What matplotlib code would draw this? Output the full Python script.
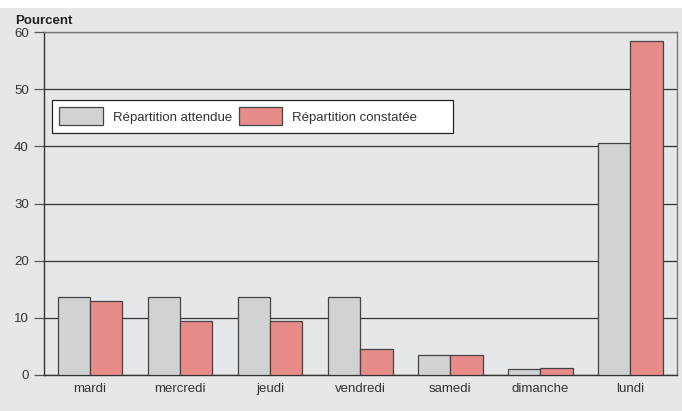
import matplotlib.pyplot as plt
import numpy as np
from matplotlib.patches import Rectangle

plt.rcParams["font.family"] = ["Liberation Sans", "DejaVu Sans"]

# Data
jours = ["mardi", "mercredi", "jeudi", "vendredi", "samedi", "dimanche", "lundi"]
attendue = [13.6, 13.6, 13.6, 13.6, 3.5, 1.1, 40.6]
constatee = [13.0, 9.4, 9.4, 4.5, 3.5, 1.2, 58.5]
yticks = [0, 10, 20, 30, 40, 50, 60]

bg = "#e6e7e8"
gris = "#d1d2d4"
rouge = "#e88c8a"

fig = plt.figure(figsize=(6.82, 4.11), dpi=100, facecolor=bg)
ax = fig.add_axes([0.0645, 0.0876, 0.9282, 0.8345])
ax.set_facecolor(bg)

# white strip at the very top
fig.patches.append(Rectangle((0, 0.98), 1, 0.02, transform=fig.transFigure,
                             facecolor="white", edgecolor="none", zorder=0))

x = np.arange(len(jours))
w = 0.36
ax.bar(x - w / 2, attendue, w, color=gris, edgecolor="#444444", linewidth=0.9,
       label="Répartition attendue", zorder=3)
ax.bar(x + w / 2, constatee, w, color=rouge, edgecolor="#444444", linewidth=0.9,
       label="Répartition constatée        ", zorder=3)

ax.set_xlim(-0.511, 6.52)
ax.set_ylim(0, 60)
ax.set_yticks(yticks)
ax.set_xticks(x)
ax.set_xticklabels(jours)
ax.grid(axis="y", color="#333333", linewidth=0.9, zorder=1)
ax.tick_params(axis="y", length=7, width=0.9, color="#555555", labelsize=9.5,
               labelcolor="#333333", pad=4)
ax.tick_params(axis="x", length=0, labelsize=9.5, labelcolor="#333333", pad=6)

ax.spines["left"].set_color("#333333")
ax.spines["bottom"].set_color("#333333")
ax.spines["top"].set_color("#777777")
ax.spines["right"].set_color("#777777")
for s in ax.spines.values():
    s.set_linewidth(1.0)

fig.text(0.022, 0.95, "Pourcent", fontsize=9.5, fontweight="bold", color="#222222",
         va="center", ha="left")

leg = ax.legend(loc="upper left", bbox_to_anchor=(0.0126, 0.802), ncol=2, fontsize=9.5,
                frameon=True, fancybox=False, handlelength=3.3, handleheight=1.75,
                columnspacing=0.5, borderpad=0.55, handletextpad=0.75,
                borderaxespad=0)
leg.get_frame().set_edgecolor("#222222")
leg.get_frame().set_facecolor("white")
leg.get_frame().set_alpha(1)
leg.get_frame().set_linewidth(0.9)
for t in leg.get_texts():
    t.set_color("#333333")

fig.savefig("out.png", dpi=100, facecolor=bg)
